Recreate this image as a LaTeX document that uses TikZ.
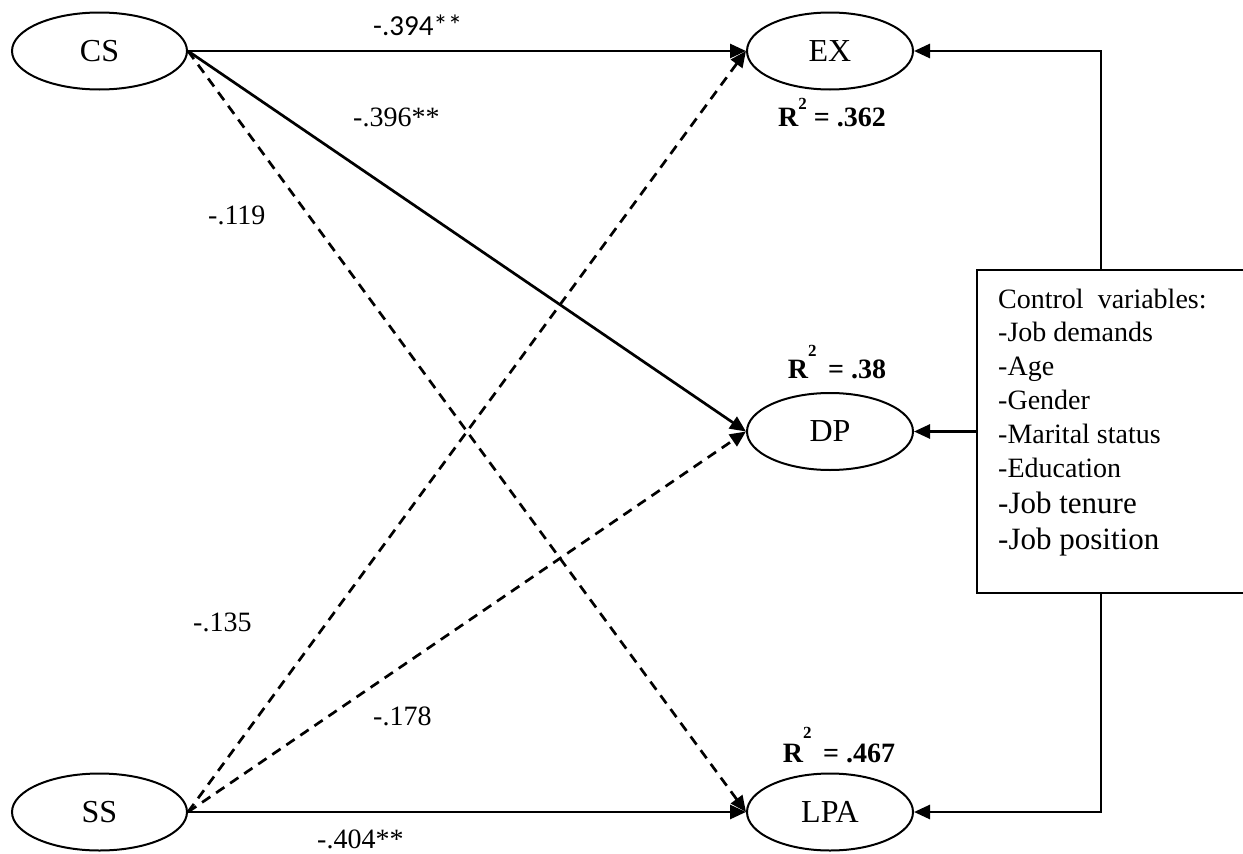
\documentclass[tikz,border=0pt]{standalone}
\usepackage{fontspec}
\setmainfont{Liberation Serif}
\newfontfamily\calibfont{Carlito}
\usetikzlibrary{shapes.geometric,arrows.meta}
\newcommand\rsqsup[2]{\raisebox{#1}{\fontsize{17}{20}\selectfont #2}}

\begin{document}
\begin{tikzpicture}[x=1pt,y=-1pt,
  latent/.style={ellipse,draw,line width=2pt,inner sep=0pt,minimum height=77pt,
    font=\fontsize{32}{36}\selectfont},
  conn/.style={line width=2.7pt,-{Triangle[length=16pt,width=14pt]}},
  dashconn/.style={conn,dash pattern=on 10pt off 7pt},
  coef/.style={anchor=base west,inner sep=0pt,font=\fontsize{28}{34}\selectfont},
  rsq/.style={anchor=base,inner sep=0pt,font=\bfseries\fontsize{28}{34}\selectfont},
  ctrltext/.style={anchor=base west,inner sep=0pt,font=\fontsize{28}{34}\selectfont},
  ctrlbig/.style={ctrltext,font=\fontsize{31}{36}\selectfont}]
\useasboundingbox (0,0) rectangle (1243,854);
\clip (0,0) rectangle (1243,854);

% latent variables
\node[latent,minimum width=175pt] (CS)  at (99.5,51)   {CS};
\node[latent,minimum width=175pt] (SS)  at (99.5,812)  {SS};
\node[latent,minimum width=166pt] (EX)  at (830,51)    {EX};
\node[latent,minimum width=166pt] (DP)  at (830,431.5) {DP};
\node[latent,minimum width=166pt] (LPA) at (830,812)   {LPA};

% control variables box (open to the right edge)
\node[draw,line width=2pt,minimum width=278pt,minimum height=323pt,inner sep=0pt]
  (ctrl) at (1116,431.5) {};
\coordinate (spine) at (1101,0);

\node[ctrltext] (c1) at (998,308) {Control\ \ variables:};
\node[ctrltext] (c2) at (998,341) {-Job demands};
\node[ctrltext] (c3) at (998,375) {-Age};
\node[ctrltext] (c4) at (998,409) {-Gender};
\node[ctrltext] (c5) at (998,443) {-Marital status};
\node[ctrltext] (c6) at (998,477) {-Education};
\node[ctrlbig]  (c7) at (998,513) {-Job tenure};
\node[ctrlbig]  (c8) at (998,549) {-Job position};

% structural paths
\draw[conn]     (CS.east) -- (EX.west);
\draw[conn]     (CS.east) -- (DP.west);
\draw[dashconn] (CS.east) -- (LPA.west);
\draw[dashconn] (SS.east) -- (EX.west);
\draw[dashconn] (SS.east) -- (DP.west);
\draw[conn]     (SS.east) -- (LPA.west);

% control paths
\draw[conn] (spine |- ctrl.north) |- (EX.east);
\draw[conn] (ctrl.west) -- (DP.east);
\draw[conn] (spine |- ctrl.south) |- (LPA.east);

% path coefficients
\node[coef,font=\calibfont\fontsize{29}{34}\selectfont] (k1) at (373,35) {-.394**};
\node[coef] (k2) at (353,126) {-.396**};
\node[coef] (k3) at (208,224) {-.119};
\node[coef] (k4) at (193,631) {-.135};
\node[coef] (k5) at (373,725) {-.178};
\node[coef] (k6) at (317,848) {-.404**};

% explained variance
\node[rsq] (r1) at (832,126) {R\rsqsup{17pt}{2} = .362};
\node[rsq] (r2) at (837,378) {R\rsqsup{22pt}{2}\, = .38};
\node[rsq] (r3) at (839,762) {R\rsqsup{24pt}{2}\, = .467};
\end{tikzpicture}
\end{document}
